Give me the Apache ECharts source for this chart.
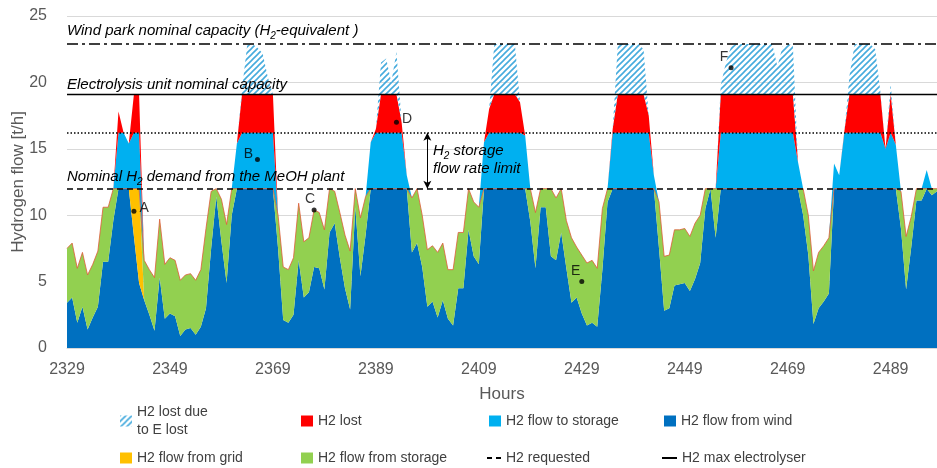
<!DOCTYPE html>
<html>
<head>
<meta charset="utf-8">
<script src="https://cdn.jsdelivr.net/npm/echarts@6/dist/echarts.min.js"></script>
<style>
  html, body { margin: 0; padding: 0; background: #fff; }
  #chart { width: 937px; height: 468px; }
</style>
</head>
<body>
<div id="chart"></div>
<script>
// hours shown on the x axis (one point per hour)
const firstHour = 2329;
const hourCount = 170;
const hours = Array.from({ length: hourCount }, (_, i) => String(firstHour + i));

// H2 from wind going straight to the MeOH plant [t/h]
const fromWind = [
  3.4, 3.8, 1.9, 3.1, 1.4, 2.3, 3.1, 6.5, 6.5, 9.6,
  12, 12, 12, 8.4, 4.9, 3.6, 2.5, 1.3, 5.3, 2.2,
  2.6, 2.4, 0.9, 1.4, 1.5, 1.0, 1.6, 3.0, 7.5, 11.4,
  8.0, 4.9, 10.0, 12, 12, 12, 12, 12, 12, 12,
  12, 7.5, 2.1, 1.9, 2.5, 6.6, 3.8, 4.2, 6.1, 6.0,
  4.4, 8.7, 9.4, 6.8, 4.5, 2.9, 10.6, 5.4, 8.5, 12,
  12, 12, 12, 12, 12, 12, 12, 7.2, 7.9, 6.1,
  3.1, 3.5, 2.3, 3.6, 2.2, 1.7, 4.5, 4.5, 8.9, 6.9,
  6.3, 12, 12, 12, 12, 12, 12, 12, 12, 12,
  9.5, 6.0, 10.6, 10.6, 6.9, 6.6, 8.7, 6.0, 3.4, 3.8,
  2.6, 1.7, 1.9, 1.6, 5.9, 11.0, 12, 12, 12, 12,
  12, 12, 12, 12, 12, 7.5, 2.8, 3.0, 4.7, 4.8,
  4.9, 4.3, 5.2, 6.4, 10.5, 12, 8.3, 12, 12, 12,
  12, 12, 12, 12, 12, 12, 12, 12, 12, 12,
  12, 12, 12, 10.0, 7.0, 1.8, 3.0, 3.5, 4.1, 12,
  12, 12, 12, 12, 12, 12, 12, 12, 12, 12,
  12, 12, 9.0, 4.4, 7.6, 11.1, 11.1, 12, 11.5, 11.8
];

// total H2 fed to the plant (wind + grid + storage) [t/h]
const plantFlow = [
  7.5, 7.9, 6.0, 7.2, 5.5, 6.3, 7.3, 10.6, 10.6, 12,
  12, 12, 12, 12, 12, 6.6, 5.9, 5.3, 9.7, 6.3,
  6.8, 6.6, 5.1, 5.5, 5.6, 5.1, 5.9, 9.0, 11.8, 12,
  11.2, 9.3, 12, 12, 12, 12, 12, 12, 12, 12,
  12, 10.0, 6.1, 5.9, 6.8, 10.9, 8.0, 8.3, 10.4, 10.2,
  8.9, 12, 11.8, 10.2, 8.5, 7.3, 12, 9.8, 11.4, 12,
  12, 12, 12, 12, 12, 12, 12, 11.3, 12, 10.0,
  7.4, 7.7, 7.2, 7.9, 5.9, 5.9, 8.7, 8.7, 12, 11.0,
  10.6, 12, 12, 12, 12, 12, 12, 12, 12, 12,
  12, 10.2, 12, 12, 12, 11.3, 12, 9.6, 8.3, 7.6,
  7.0, 6.4, 6.6, 6.0, 10.5, 12, 12, 12, 12, 12,
  12, 12, 12, 12, 12, 11.0, 6.9, 7.0, 8.9, 8.9,
  9.0, 8.4, 9.4, 10.0, 12, 12, 12, 12, 12, 12,
  12, 12, 12, 12, 12, 12, 12, 12, 12, 12,
  12, 12, 12, 12, 10.0, 5.8, 7.2, 7.7, 8.3, 12,
  12, 12, 12, 12, 12, 12, 12, 12, 12, 12,
  12, 12, 11.8, 8.4, 9.9, 12, 12, 12, 12, 12
];

// H2 taken from the grid [t/h]
const fromGrid = [
  0, 0, 0, 0, 0, 0, 0, 0, 0, 0,
  0, 0, 0, 3.6, 7.1, 0, 0, 0, 0, 0,
  0, 0, 0, 0, 0, 0, 0, 0, 0, 0,
  0, 0, 0, 0, 0, 0, 0, 0, 0, 0,
  0, 0, 0, 0, 0, 0, 0, 0, 0, 0,
  0, 0, 0, 0, 0, 0, 0, 0, 0, 0,
  0, 0, 0, 0, 0, 0, 0, 0, 0, 0,
  0, 0, 0, 0, 0, 0, 0, 0, 0, 0,
  0, 0, 0, 0, 0, 0, 0, 0, 0, 0,
  0, 0, 0, 0, 0, 0, 0, 0, 0, 0,
  0, 0, 0, 0, 0, 0, 0, 0, 0, 0,
  0, 0, 0, 0, 0, 0, 0, 0, 0, 0,
  0, 0, 0, 0, 0, 0, 0, 0, 0, 0,
  0, 0, 0, 0, 0, 0, 0, 0, 0, 0,
  0, 0, 0, 0, 0, 0, 0, 0, 0, 0,
  0, 0, 0, 0, 0, 0, 0, 0, 0, 0,
  0, 0, 0, 0, 0, 0, 0, 0, 0, 0
];

// wind H2 above the plant demand (to storage, then lost) [t/h]
const windExcess = [
  0, 0, 0, 0, 0, 0, 0, 0, 0, 0,
  5.8, 4.2, 3.4, 7.1, 7.1, 0, 0, 0, 0, 0,
  0, 0, 0, 0, 0, 0, 0, 0, 0, 0,
  0, 0, 0, 3.4, 7.5, 10.8, 10.9, 10.6, 10.2, 8.4,
  7.1, 0, 0, 0, 0, 0, 0, 0, 0, 0,
  0, 0, 0, 0, 0, 0, 0, 0, 0, 3.5,
  4.5, 9.5, 9.8, 8.0, 10.3, 5.0, 1.0, 0, 0, 0,
  0, 0, 0, 0, 0, 0, 0, 0, 0, 0,
  0, 3.5, 6.0, 10.9, 10.9, 10.9, 10.9, 10.9, 6.5, 4.0,
  0, 0, 0, 0, 0, 0, 0, 0, 0, 0,
  0, 0, 0, 0, 0, 0, 4.5, 10.9, 10.9, 10.9,
  10.9, 10.9, 10.5, 5.5, 1.0, 0, 0, 0, 0, 0,
  0, 0, 0, 0, 0, 0, 0, 7.8, 9.5, 10.7,
  10.9, 10.9, 10.9, 10.9, 10.9, 10.9, 10.9, 10.9, 9.2, 10.7,
  10.9, 10.8, 2.0, 0, 0, 0, 0, 0, 0, 1.9,
  1.0, 4.3, 8.5, 10.9, 10.9, 10.9, 10.9, 10.5, 7.3, 3.0,
  7.9, 3.3, 0, 0, 0, 0, 0, 1.4, 0, 0
];

// reference levels [t/h]
const nominalDemand = 12;
const storageFlowLimit = 16.2;
const electrolyserMax = 19.1;
const windParkMax = 22.9;

// labelled points A-F
const pointNames = ['A', 'B', 'C', 'D', 'E', 'F'];
const pointHours = ['2342', '2366', '2377', '2393', '2429', '2458'];
const pointValues = [10.3, 14.2, 10.4, 17.0, 5.0, 21.1];

// split the stack
const round1 = v => Math.round(v * 100) / 100;
const fromStorage = plantFlow.map((v, i) => round1(Math.max(v - fromWind[i] - fromGrid[i], 0)));
const toStorage = windExcess.map(v => round1(Math.min(v, storageFlowLimit - nominalDemand)));
const lost = windExcess.map(v => round1(Math.min(Math.max(v - (storageFlowLimit - nominalDemand), 0), electrolyserMax - storageFlowLimit)));
const lostE = windExcess.map(v => round1(Math.max(v - (electrolyserMax - nominalDemand), 0)));

function hatchPattern() {
  const c = document.createElement('canvas');
  c.width = 6;
  c.height = 6;
  const ctx = c.getContext('2d');
  ctx.strokeStyle = '#45ABDD';
  ctx.lineWidth = 1.6;
  ctx.beginPath();
  ctx.moveTo(0, 6); ctx.lineTo(6, 0);
  ctx.moveTo(-1, 1); ctx.lineTo(1, -1);
  ctx.moveTo(5, 7); ctx.lineTo(7, 5);
  ctx.stroke();
  return { image: c, repeat: 'repeat' };
}
const hatch = hatchPattern();

const FONT = '"Liberation Sans", Arial, sans-serif';

function areaSeries(name, data, color, extra) {
  return Object.assign({
    name: name,
    type: 'line',
    stack: 'h2',
    data: data,
    symbol: 'none',
    smooth: false,
    lineStyle: { width: 0 },
    itemStyle: { color: color },
    areaStyle: { color: color, opacity: 1 },
    emphasis: { disabled: true },
    silent: true
  }, extra || {});
}

function legendItem(name, left, top, opts) {
  return Object.assign({
    data: [name],
    left: left,
    top: top,
    padding: 0,
    icon: 'rect',
    itemWidth: 12,
    itemHeight: 11,
    itemGap: 0,
    selectedMode: false,
    textStyle: { fontSize: 14, color: '#404040', fontFamily: FONT, lineHeight: 18, padding: [0, 0, 0, 0] }
  }, opts || {});
}

function subText(parts) {
  return parts.map(p => p[1] ? '{s|' + p[0] + '}' : '{i|' + p[0] + '}').join('');
}
const richText = {
  i: { fontStyle: 'italic', fontSize: 15, fontFamily: FONT, fill: '#000', lineHeight: 20 },
  s: { fontStyle: 'italic', fontSize: 10, fontFamily: FONT, fill: '#000', padding: [9, 0, 0, 0], verticalAlign: 'bottom' }
};

const chart = echarts.init(document.getElementById('chart'));

chart.setOption({
  animation: false,
  backgroundColor: '#fff',
  grid: { left: 67, right: 0, top: 16, bottom: 120, containLabel: false, outerBoundsMode: 'none' },
  xAxis: {
    type: 'category',
    data: hours,
    boundaryGap: false,
    name: 'Hours',
    nameLocation: 'middle',
    nameGap: 38,
    nameTextStyle: { fontSize: 17, color: '#595959', fontFamily: FONT },
    axisLine: { lineStyle: { color: '#D9D9D9' } },
    axisTick: { show: false },
    axisLabel: { interval: 19, fontSize: 16, color: '#595959', fontFamily: FONT, margin: 14 },
    splitLine: { show: false }
  },
  yAxis: {
    type: 'value',
    min: 0,
    max: 25,
    interval: 5,
    name: 'Hydrogen flow [t/h]',
    nameLocation: 'middle',
    nameGap: 40,
    nameMoveOverlap: false,
    nameTextStyle: { fontSize: 17, color: '#595959', fontFamily: FONT },
    axisLine: { show: false },
    axisTick: { show: false },
    axisLabel: { fontSize: 16, color: '#595959', fontFamily: FONT, margin: 20 },
    splitLine: { lineStyle: { color: '#D9D9D9', width: 1 } }
  },
  legend: [
    legendItem('H2 lost due to E lost', 120, 394, {
      formatter: () => 'H2 lost due\nto E lost',
      textStyle: { fontSize: 14, color: '#404040', fontFamily: FONT, lineHeight: 18, padding: [18, 0, 0, 0] }
    }),
    legendItem('H2 lost', 301, 412),
    legendItem('H2 flow to storage', 489, 412),
    legendItem('H2 flow from wind', 664, 412),
    legendItem('H2 flow from grid', 120, 449),
    legendItem('H2 flow from storage', 301, 449),
    legendItem('H2 requested', 487, 449, {
      icon: 'path://M0,0H5V2H0Z M9,0H14V2H9Z', itemWidth: 14, itemHeight: 2,
      itemStyle: { color: '#000' }
    }),
    legendItem('H2 max electrolyser', 662, 449, {
      icon: 'rect', itemWidth: 15, itemHeight: 2,
      itemStyle: { color: '#000' }
    })
  ],
  series: [
    areaSeries('H2 flow from wind', fromWind, '#0070C0'),
    areaSeries('H2 flow from grid', fromGrid, '#FFC000'),
    areaSeries('H2 flow from storage', fromStorage, '#92D050', { lineStyle: { width: 0.8, color: '#E05A3A' } }),
    areaSeries('H2 flow to storage', toStorage, '#00B0F0'),
    areaSeries('H2 lost', lost, '#FF0000'),
    areaSeries('H2 lost due to E lost', lostE, hatch),
    {
      name: 'H2 requested',
      type: 'line',
      data: [],
      symbol: 'none',
      z: 5,
      itemStyle: { color: '#000' },
      lineStyle: { color: '#000', width: 1.5, type: [5, 3] },
      markLine: {
        silent: true,
        symbol: 'none',
        label: { show: false },
        lineStyle: { color: '#000', width: 1.5, type: [6, 4] },
        data: [{ yAxis: nominalDemand }]
      }
    },
    {
      name: 'H2 max electrolyser',
      type: 'line',
      data: [],
      symbol: 'none',
      z: 5,
      itemStyle: { color: '#000' },
      lineStyle: { color: '#000', width: 1.5 },
      markLine: {
        silent: true,
        symbol: 'none',
        label: { show: false },
        data: [
          { yAxis: electrolyserMax, lineStyle: { color: '#000', width: 1.3, type: 'solid' } },
          { yAxis: windParkMax, lineStyle: { color: '#000', width: 1.5, type: [11, 4, 3, 4] } },
          { yAxis: storageFlowLimit, lineStyle: { color: '#000', width: 1.5, type: [1.5, 2] } },
          [
            { coord: ['2399', storageFlowLimit], symbol: 'arrow', symbolSize: [6, 8] },
            { coord: ['2399', nominalDemand], symbol: 'arrow', symbolSize: [6, 8], lineStyle: { color: '#000', width: 1, type: 'solid' } }
          ]
        ]
      }
    },
    {
      name: 'points',
      type: 'scatter',
      z: 6,
      symbolSize: 5,
      itemStyle: { color: '#000' },
      silent: true,
      label: { show: true, formatter: p => p.name, fontSize: 14, color: '#000', fontFamily: FONT },
      data: pointNames.map((n, i) => ({
        name: n,
        value: [pointHours[i], pointValues[i]],
        label: [
          { position: 'right', distance: 3, offset: [0, -3] },
          { position: 'left', distance: 2, offset: [0, -5] },
          { position: 'top', distance: 1, offset: [-4, 0] },
          { position: 'right', distance: 3, offset: [0, -3] },
          { position: 'top', distance: 1, offset: [-6, 0] },
          { position: 'top', distance: 1, offset: [-7, 0] }
        ][i]
      }))
    }
  ],
  graphic: [
    { type: 'text', z: 100, x: 67, y: 31, style: { text: subText([['Wind park nominal capacity (H'], ['2', 1], ['-equivalent )']]), rich: richText, verticalAlign: 'middle' } },
    { type: 'text', z: 100, x: 67, y: 85, style: { text: subText([['Electrolysis unit nominal capacity']]), rich: richText, verticalAlign: 'middle' } },
    { type: 'text', z: 100, x: 67, y: 177, style: { text: subText([['Nominal H'], ['2', 1], [' demand from the MeOH plant']]), rich: richText, verticalAlign: 'middle' } },
    { type: 'text', z: 100, x: 433, y: 151, style: { text: subText([['H'], ['2', 1], [' storage']]), rich: richText, verticalAlign: 'middle' } },
    { type: 'text', z: 100, x: 433, y: 169, style: { text: subText([['flow rate limit']]), rich: richText, verticalAlign: 'middle' } }
  ]
});
</script>
</body>
</html>
